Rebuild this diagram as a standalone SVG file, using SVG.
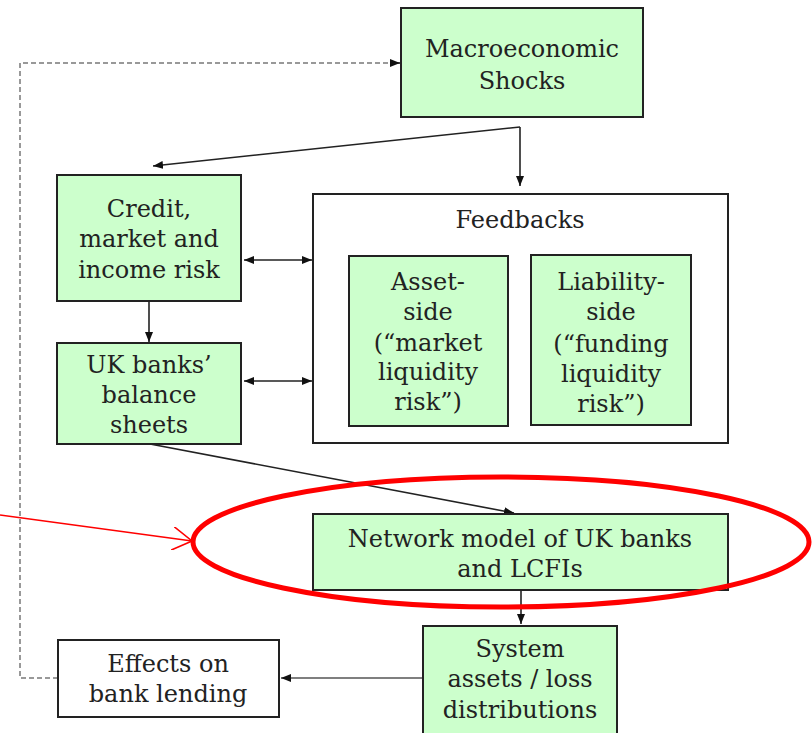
<svg xmlns="http://www.w3.org/2000/svg" width="812" height="733" viewBox="0 0 812 733">
<defs>
<marker id="ah" viewBox="0 0 10 8" refX="10" refY="4" markerWidth="10" markerHeight="8" markerUnits="userSpaceOnUse" orient="auto-start-reverse">
<path d="M0,0 L10,4 L0,8 Z" fill="#111"/>
</marker>
<marker id="ra" viewBox="0 0 20 24" refX="20" refY="12" markerWidth="20" markerHeight="24" markerUnits="userSpaceOnUse" orient="auto">
<path d="M0,0 L20,12 L0,24" fill="none" stroke="#ff0000" stroke-width="1.6"/>
</marker>
<style>
.g{fill:#ccffcc;stroke:#222;stroke-width:2}
.w{fill:#fff;stroke:#222;stroke-width:2}
.t{font-family:"DejaVu Serif","Liberation Serif",serif;font-size:24px;fill:#222;text-anchor:middle}
.c{fill:none;stroke:#222;stroke-width:1.6}
.d{fill:none;stroke:#999;stroke-width:2;stroke-dasharray:5,3}
</style>
</defs>
<rect width="812" height="733" fill="#fff"/>
<g id="connectors">
<path class="d" d="M58,678 L20,678 L20,63 L390,63"/>
<path d="M390,63 L400,63" stroke="#111" stroke-width="1.5" marker-end="url(#ah)"/>
<path class="c" d="M520,127 L153,166" marker-end="url(#ah)"/>
<path class="c" d="M520,127 L520,186" marker-end="url(#ah)"/>
<path class="c" d="M149,301 L149,342" marker-end="url(#ah)"/>
<path class="c" d="M244,260 L312,260" marker-start="url(#ah)" marker-end="url(#ah)"/>
<path class="c" d="M244,381 L312,381" marker-start="url(#ah)" marker-end="url(#ah)"/>
<path class="c" d="M150,444 L514,513" marker-end="url(#ah)"/>
<path class="c" d="M521,590 L521,624" marker-end="url(#ah)"/>
<path d="M423,678 L281,678" stroke="#555" stroke-width="1.6" fill="none" marker-end="url(#ah)"/>
</g>
<g id="macro"><rect class="g" x="401" y="8" width="242" height="109"/>
<text class="t" x="522" y="57">Macroeconomic</text><text class="t" x="522" y="89">Shocks</text></g>
<g id="credit"><rect class="g" x="57" y="175" width="184" height="126"/>
<text class="t" x="149" y="217">Credit,</text><text class="t" x="149" y="247">market and</text><text class="t" x="149" y="278">income risk</text></g>
<g id="ukbanks"><rect class="g" x="57" y="343" width="184" height="101"/>
<text class="t" x="149" y="373">UK banks’</text><text class="t" x="149" y="403">balance</text><text class="t" x="149" y="433">sheets</text></g>
<g id="feedbacks"><rect class="w" x="313" y="194" width="415" height="249"/>
<text class="t" x="520" y="228">Feedbacks</text></g>
<g id="asset"><rect class="g" x="349" y="256" width="159" height="170"/>
<text class="t" x="428" y="290">Asset-</text><text class="t" x="428" y="320">side</text><text class="t" x="428" y="351">(“market</text><text class="t" x="428" y="380">liquidity</text><text class="t" x="428" y="410">risk”)</text></g>
<g id="liability"><rect class="g" x="531" y="255" width="160" height="170"/>
<text class="t" x="611" y="290">Liability-</text><text class="t" x="611" y="320">side</text><text class="t" x="611" y="352">(“funding</text><text class="t" x="611" y="382">liquidity</text><text class="t" x="611" y="412">risk”)</text></g>
<g id="network"><rect class="g" x="313" y="514" width="415" height="76"/>
<text class="t" x="520" y="547">Network model of UK banks</text><text class="t" x="520" y="577">and LCFIs</text></g>
<g id="system"><rect class="g" x="423" y="626" width="194" height="112"/>
<text class="t" x="520" y="657">System</text><text class="t" x="520" y="687">assets / loss</text><text class="t" x="520" y="718">distributions</text></g>
<g id="effects"><rect class="w" x="58" y="640" width="221" height="77"/>
<text class="t" x="168" y="672">Effects on</text><text class="t" x="168" y="702">bank lending</text></g>
<g id="highlight">
<path d="M0,515 L192,541" stroke="#ff0000" stroke-width="1.6" fill="none" marker-end="url(#ra)"/>
<ellipse cx="501" cy="542" rx="308" ry="65" fill="none" stroke="#ff0000" stroke-width="5"/>
</g>
</svg>
